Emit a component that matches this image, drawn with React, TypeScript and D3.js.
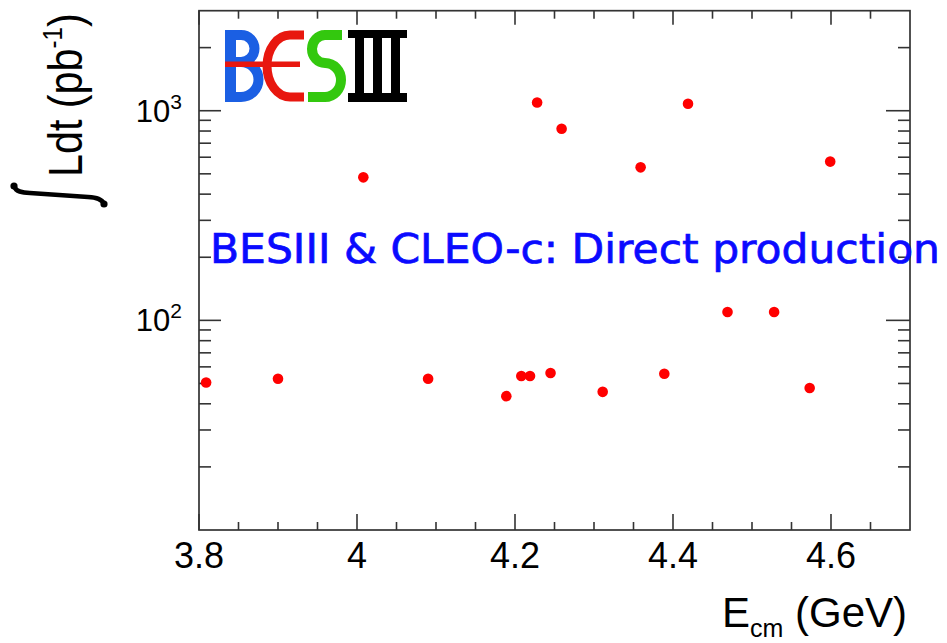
import React from 'react';
import * as d3 from 'd3';

// Centre-of-mass energies (GeV) and integrated luminosities (pb^-1)
const energies = [
  3.809, 3.9, 4.008, 4.09, 4.189, 4.208, 4.219, 4.228, 4.245,
  4.259, 4.311, 4.359, 4.389, 4.419, 4.469, 4.528, 4.573, 4.599,
];
const lumis = [
  50.5, 52.7, 481, 52.7, 43.5, 54.3, 54.3, 1095, 56.1,
  821, 45.6, 537, 55.6, 1080, 109.6, 109.6, 47.6, 572,
];

const xMajorTicks = [3.8, 4.0, 4.2, 4.4, 4.6];
const xTickLabels = ['3.8', '4', '4.2', '4.4', '4.6'];
const yMajorExponents = [2, 3];

const W = 947;
const H = 643;
const plotLeft = 199;
const plotRight = 910;
const plotTop = 10.7;
const plotBottom = 530;

const axisFont = '"Liberation Sans", Arial, Helvetica, sans-serif';
const frameColor = '#333';

function BesLogo() {
  // BESIII logo: blue B, red E with a bar through the B, green S, black III
  return (
    <g>
      {/* B */}
      <rect x={225} y={30} width={11} height={72} fill="#1b5fe3" />
      <path
        d="M230,35 H241 A13.5,13.5 0 0 1 241,62 H230"
        fill="none" stroke="#1b5fe3" strokeWidth={10}
      />
      <path
        d="M230,97 H241 A17.5,17.5 0 0 0 241,62"
        fill="none" stroke="#1b5fe3" strokeWidth={10}
      />
      {/* E */}
      <path
        d="M304,35 H290 A23,31 0 0 0 290,97 H304"
        fill="none" stroke="#e8170f" strokeWidth={9}
      />
      <rect x={225} y={61.5} width={75} height={5.5} fill="#e8170f" />
      {/* S */}
      <path
        d="M342,35 H325 A13,14 0 0 0 325,63 A16,17 0 0 1 325,97 H308"
        fill="none" stroke="#33c80e" strokeWidth={10}
      />
      {/* III */}
      <rect x={348} y={30} width={59} height={8} fill="#000" />
      <rect x={348} y={93} width={59} height={9} fill="#000" />
      <rect x={355} y={36} width={9} height={58} fill="#000" />
      <rect x={373} y={36} width={9} height={58} fill="#000" />
      <rect x={391} y={36} width={9} height={58} fill="#000" />
    </g>
  );
}

export default function App() {
  const x = d3.scaleLinear().domain([3.8, 4.7]).range([plotLeft, plotRight]);
  const y = d3.scaleLog().domain([10, 3000]).range([plotBottom, plotTop]);

  const xMinor = d3
    .range(0, 19)
    .map((i) => +(3.8 + i * 0.05).toFixed(2))
    .filter((v) => !xMajorTicks.some((m) => Math.abs(m - v) < 1e-6) && v < 4.7 && v > 3.8);

  const yMinor: number[] = [];
  [1, 2, 3].forEach((k) => {
    for (let m = 2; m <= 9; m++) {
      const v = m * Math.pow(10, k);
      if (v < 3000) yMinor.push(v);
    }
  });
  const yMajor = yMajorExponents.map((e) => Math.pow(10, e));

  return (
    <svg
      width={W}
      height={H}
      style={{ position: 'absolute', left: 0, top: 0, background: '#fff' }}
    >
      <rect width={W} height={H} fill="#fff" />

      {/* frame */}
      <rect
        x={plotLeft}
        y={plotTop}
        width={plotRight - plotLeft}
        height={plotBottom - plotTop}
        fill="none"
        stroke={frameColor}
        strokeWidth={1.7}
      />

      {/* x ticks, bottom and top */}
      {xMajorTicks.map((v) => (
        <g key={'xM' + v} stroke={frameColor} strokeWidth={1.6}>
          <line x1={x(v)} x2={x(v)} y1={plotBottom} y2={plotBottom - 16} />
          <line x1={x(v)} x2={x(v)} y1={plotTop} y2={plotTop + 14} />
        </g>
      ))}
      {xMinor.map((v) => (
        <g key={'xm' + v} stroke={frameColor} strokeWidth={1.6}>
          <line x1={x(v)} x2={x(v)} y1={plotBottom} y2={plotBottom - 8} />
          <line x1={x(v)} x2={x(v)} y1={plotTop} y2={plotTop + 8} />
        </g>
      ))}

      {/* y ticks, left and right */}
      {yMajor.map((v) => (
        <g key={'yM' + v} stroke={frameColor} strokeWidth={1.6}>
          <line x1={plotLeft} x2={plotLeft + 22} y1={y(v)} y2={y(v)} />
          <line x1={plotRight} x2={plotRight - 24} y1={y(v)} y2={y(v)} />
        </g>
      ))}
      {yMinor.map((v) => (
        <g key={'ym' + v} stroke={frameColor} strokeWidth={1.6}>
          <line x1={plotLeft} x2={plotLeft + 12} y1={y(v)} y2={y(v)} />
          <line x1={plotRight} x2={plotRight - 12} y1={y(v)} y2={y(v)} />
        </g>
      ))}

      {/* x tick labels */}
      {xMajorTicks.map((v, i) => (
        <text
          key={'xl' + v}
          x={x(v)}
          y={568}
          textAnchor="middle"
          fontFamily={axisFont}
          fontSize={36}
          fill="#000"
        >
          {xTickLabels[i]}
        </text>
      ))}

      {/* y tick labels */}
      {yMajorExponents.map((e) => (
        <text
          key={'yl' + e}
          x={182}
          y={y(Math.pow(10, e)) + 11}
          textAnchor="end"
          fontFamily={axisFont}
          fontSize={31}
          fill="#000"
        >
          10
          <tspan fontSize={21} dy={-13}>
            {e}
          </tspan>
        </text>
      ))}

      {/* x axis title */}
      <text
        x={907}
        y={627}
        textAnchor="end"
        fontFamily={axisFont}
        fontSize={42}
        fill="#000"
      >
        E
        <tspan fontSize={25} dy={10}>
          cm
        </tspan>
        <tspan dy={-10}> (GeV)</tspan>
      </text>

      {/* y axis title: integral sign drawn as a stroked curve, then the text */}
      <g fill="#000" stroke="#000">
        <path
          d="M14,186 C16,192 22,193 30,193 L88,197 C97,197.5 102,199 104,204"
          fill="none"
          strokeWidth={4.5}
          strokeLinecap="round"
        />
        <circle cx={14} cy={186} r={3.6} stroke="none" />
        <circle cx={104} cy={204} r={3.6} stroke="none" />
      </g>
      <text
        transform="translate(82,177) rotate(-90) scale(0.86,1)"
        textAnchor="start"
        fontFamily={axisFont}
        fontSize={48}
        fill="#000"
      >
        Ldt (pb
        <tspan fontSize={28} dy={-20}>-1</tspan>
        <tspan dy={20}>)</tspan>
      </text>

      {/* data points */}
      {energies.map((e, i) => (
        <circle key={'p' + i} cx={x(e)} cy={y(lumis[i])} r={5.3} fill="#ff0000" />
      ))}

      <BesLogo />

      <text
        x={210}
        y={263}
        fontFamily='"Comic Sans MS", "DejaVu Sans", sans-serif'
        fontSize={40}
        fill="#0a0aff"
        stroke="#0a0aff"
        strokeWidth={0.7}
        textLength={730}
        lengthAdjust="spacingAndGlyphs"
      >
        BESIII &amp; CLEO-c: Direct production
      </text>
    </svg>
  );
}
